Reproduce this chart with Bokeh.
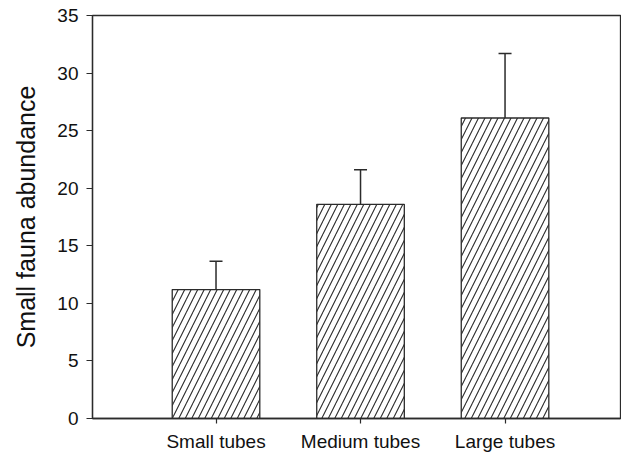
from bokeh.plotting import figure
from bokeh.models import ColumnDataSource, Whisker, TeeHead, FixedTicker, Range1d
from bokeh.embed import file_html
from bokeh.resources import INLINE

categories = ["Small tubes", "Medium tubes", "Large tubes"]
means = [11.2, 18.6, 26.1]
errors = [2.45, 3.0, 5.6]
y_ticks = [0, 5, 10, 15, 20, 25, 30, 35]

xpos = list(range(len(categories)))
upper = [m + e for m, e in zip(means, errors)]

src = ColumnDataSource(dict(x=xpos, top=means, lower=means, upper=upper))

INK = "#2b2b2b"
FONT = "Liberation Sans"

p = figure(width=621, height=455, output_backend="svg", toolbar_location=None,
           x_range=Range1d(-0.8547, 2.799), y_range=Range1d(0, 35),
           min_border_left=92, min_border_right=1, min_border_top=15, min_border_bottom=37)

p.vbar(x="x", top="top", bottom=0, width=0.606, source=src,
       fill_color="white", line_color=INK, line_width=1.3,
       hatch_pattern="/", hatch_color=INK, hatch_scale=13, hatch_weight=1.1)

w = Whisker(base="x", upper="upper", lower="lower", source=src,
            line_color=INK, line_width=1.5,
            upper_head=TeeHead(size=13, line_color=INK, line_width=1.5),
            lower_head=None)
p.add_layout(w)

p.grid.visible = False
p.outline_line_color = INK
p.outline_line_width = 1.3
p.outline_line_alpha = 1.0
p.background_fill_color = "white"
p.border_fill_color = "white"

# x axis
p.xaxis.ticker = FixedTicker(ticks=xpos)
p.xaxis.major_label_overrides = {i: c for i, c in enumerate(categories)}
p.xaxis.major_tick_out = 5
p.xaxis.major_tick_in = 0
p.xaxis.minor_tick_line_color = None
p.xaxis.axis_line_color = INK
p.xaxis.axis_line_width = 1.3
p.xaxis.major_tick_line_color = INK
p.xaxis.major_tick_line_width = 1.2
p.xaxis.major_label_text_font = FONT
p.xaxis.major_label_text_font_size = "19px"
p.xaxis.major_label_text_color = "#111111"
p.xaxis.major_label_standoff = 7

# y axis
p.yaxis.ticker = FixedTicker(ticks=y_ticks)
p.yaxis.major_tick_out = 6
p.yaxis.major_tick_in = 0
p.yaxis.minor_tick_line_color = None
p.yaxis.axis_line_color = INK
p.yaxis.axis_line_width = 1.3
p.yaxis.major_tick_line_color = INK
p.yaxis.major_tick_line_width = 1.2
p.yaxis.major_label_text_font = FONT
p.yaxis.major_label_text_font_size = "19px"
p.yaxis.major_label_text_color = "#111111"
p.yaxis.major_label_standoff = 8
p.yaxis.axis_label = "Small fauna abundance"
p.yaxis.axis_label_text_font = FONT
p.yaxis.axis_label_text_font_size = "25px"
p.yaxis.axis_label_text_font_style = "normal"
p.yaxis.axis_label_text_color = "#111111"
p.yaxis.axis_label_standoff = 14

open("out.html", "w").write(file_html(p, INLINE))
